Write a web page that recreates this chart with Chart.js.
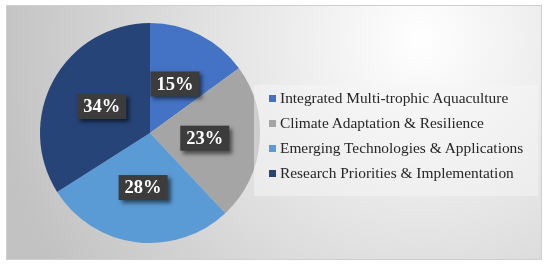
<!DOCTYPE html>
<html>
<head>
<meta charset="utf-8">
<script src="https://cdn.jsdelivr.net/npm/chart.js@4"></script>
<style>
  body { margin: 0; background: #fff; }
  #wrap { position: relative; width: 550px; height: 265px; }
  #legend {
    position: absolute; left: 254px; top: 85px; width: 284px; height: 111px;
    background: rgba(246, 246, 246, 0.5);
    font-family: "Liberation Serif", "Times New Roman", serif; font-size: 15.4px; color: #262626;
    box-sizing: border-box; padding-top: 0;
  }
  .item { height: 25px; line-height: 25px; white-space: nowrap; padding-left: 15px; }
  .sq { display: inline-block; width: 7px; height: 7px; margin-right: 4px; vertical-align: 1px; }
</style>
</head>
<body>
<div id="wrap">
  <canvas id="chart" width="550" height="265"></canvas>
  <div id="legend"></div>
</div>
<script>
const topics = [
  "Integrated Multi-trophic Aquaculture",
  "Climate Adaptation & Resilience",
  "Emerging Technologies & Applications",
  "Research Priorities & Implementation"
];
const shares = [15, 23, 28, 34];
const colors = ["#4472C4", "#A5A5A5", "#5B9BD5", "#264478"];

// gradient panel + frame behind the pie
const panel = {
  id: "panel",
  beforeDraw(chart) {
    const ctx = chart.ctx;
    ctx.save();
    ctx.fillStyle = "#fff";
    ctx.fillRect(0, 0, chart.width, chart.height);
    const g = ctx.createRadialGradient(420, 40, 0, 420, 40, 430);
    g.addColorStop(0, "#ffffff");
    g.addColorStop(0.45, "#e4e4e4");
    g.addColorStop(1, "#c2c2c2");
    ctx.fillStyle = g;
    ctx.fillRect(6, 5, 535, 254);
    ctx.strokeStyle = "#cfcfcf";
    ctx.lineWidth = 1;
    ctx.strokeRect(6.5, 5.5, 535, 254);
    ctx.restore();
  }
};

// dark percentage tags in the middle of each slice
const pctLabels = {
  id: "pctLabels",
  afterDatasetsDraw(chart) {
    const ctx = chart.ctx;
    const meta = chart.getDatasetMeta(0);
    ctx.save();
    ctx.font = 'bold 18.5px "Liberation Serif", serif';
    ctx.textAlign = "center";
    ctx.textBaseline = "middle";
    meta.data.forEach((arc, i) => {
      const p = arc.getProps(["x", "y", "startAngle", "endAngle", "outerRadius"], true);
      const mid = (p.startAngle + p.endAngle) / 2;
      const r = p.outerRadius * 0.5;
      const cx = p.x + Math.cos(mid) * r;
      const cy = p.y + Math.sin(mid) * r;
      const txt = shares[i] + "%";
      const w = ctx.measureText(txt).width + 12;
      const h = 25;
      ctx.shadowColor = "rgba(0,0,0,0.55)";
      ctx.shadowOffsetX = 3;
      ctx.shadowOffsetY = 3;
      ctx.shadowBlur = 4;
      ctx.fillStyle = "#3c3c3c";
      ctx.fillRect(cx - w / 2, cy - h / 2, w, h);
      ctx.shadowColor = "transparent";
      ctx.fillStyle = "#fff";
      ctx.fillText(txt, cx, cy + 1);
    });
    ctx.restore();
  }
};

new Chart(document.getElementById("chart"), {
  type: "pie",
  data: {
    labels: topics,
    datasets: [{
      data: shares,
      backgroundColor: colors,
      borderWidth: 0
    }]
  },
  options: {
    responsive: false,
    animation: false,
    layout: { padding: { left: 40, top: 23, right: 290, bottom: 22 } },
    plugins: {
      legend: { display: false },
      tooltip: { enabled: false }
    }
  },
  plugins: [panel, pctLabels]
});

const legend = document.getElementById("legend");
topics.forEach((t, i) => {
  const row = document.createElement("div");
  row.className = "item";
  const sq = document.createElement("span");
  sq.className = "sq";
  sq.style.background = colors[i];
  row.appendChild(sq);
  row.appendChild(document.createTextNode(t));
  legend.appendChild(row);
});
</script>
</body>
</html>
